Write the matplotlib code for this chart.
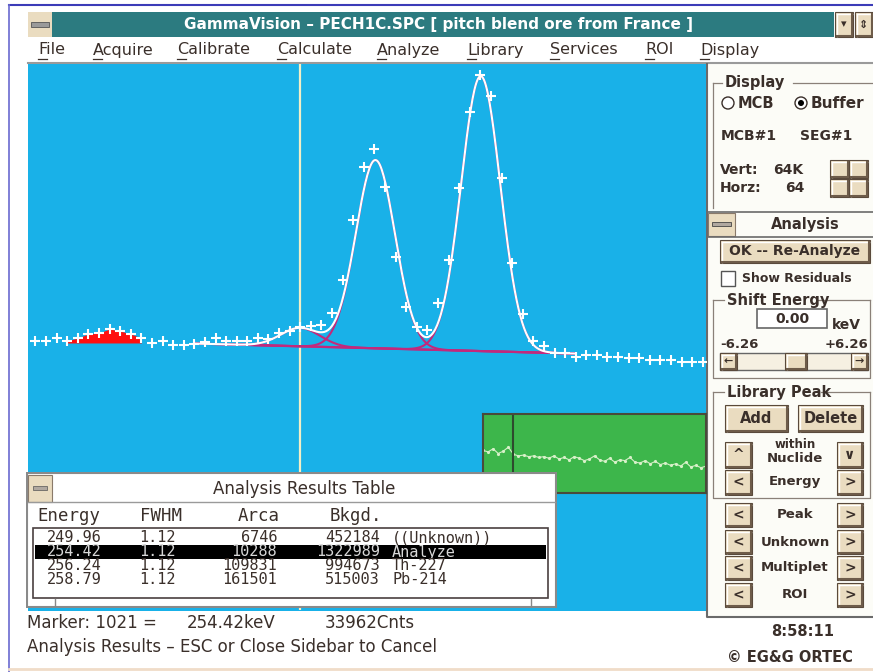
import numpy as np
import matplotlib
matplotlib.use("Agg")
import matplotlib.pyplot as plt
from matplotlib.patches import Rectangle, Circle

# ----------------------------------------------------------
# Spectrum data (channel, counts)
# ----------------------------------------------------------
channels = list(range(996, 1060))
counts = [
    32290, 32290, 32650, 32290, 32650, 33130, 33250, 33730, 33490, 33130,
    32650, 32050, 32290, 31810, 31810, 31930, 32170, 32650, 32290, 32290,
    32290, 32650, 32530, 33250, 33490, 33962, 34090, 34210, 35650, 39610,
    46810, 53170, 55330, 50770, 42370, 36370, 33970, 33610, 36850, 42010,
    50650, 59780, 64220, 61700, 51850, 41650, 35530, 32290, 31690, 30850,
    30850, 30370, 30600, 30600, 30370, 30370, 30250, 30250, 30010, 30010,
    30010, 29770, 29770, 29770,
]
roi_channels = [999, 1000, 1001, 1002, 1003, 1004, 1005, 1006]
roi_base = 32050

# analysis results table
peak_energy = [249.96, 254.42, 256.24, 258.79]
peak_fwhm = [1.12, 1.12, 1.12, 1.12]
peak_area = [6746, 10288, 109831, 161501]
peak_bkgd = [452184, 1322989, 994673, 515003]
peak_label = ["((Unknown))", "Analyze", "Th-227", "Pb-214"]
peak_height = [1450, 2210, 22600, 33000]   # fitted height above background

# calibration / marker
MARKER_CH = 1021
MARKER_E = 254.42
GAIN = 0.2565          # keV per channel
MARKER_CNTS = 33962

# multiplet fit region and linear background
fit_ch = [1011, 1047]
fit_bkg = [31980, 30780]

# overview spectrum shown in the green inset
overview = [54, 52, 56, 50, 53, 58, 49, 47, 48, 46, 47, 45, 46, 44, 47, 43,
            45, 42, 46, 44, 41, 43, 47, 42, 40, 44, 39, 42, 41, 45, 39, 38,
            41, 37, 40, 36, 38, 35, 37, 34, 39, 33, 35, 32, 34]

menu_items = ["File", "Acquire", "Calibrate", "Calculate", "Analyze",
              "Library", "Services", "ROI", "Display"]
menu_x = [38, 93, 177, 277, 377, 467, 550, 645, 700]

# ----------------------------------------------------------
# Colours
# ----------------------------------------------------------
BLUE = "#19b1e8"
TEAL = "#2c7b80"
BEIGE = "#eadcc0"
SHADOW = "#6e5c4a"
INK = "#3a2f2a"
PANEL = "#fcfcf7"
MAGENTA = "#c2297c"
GREEN = "#3db64b"

W, H = 873, 672
fig = plt.figure(figsize=(W / 100, H / 100), dpi=100)
fig.patch.set_facecolor("white")

ui = fig.add_axes([0, 0, 1, 1])
ui.set_xlim(0, W)
ui.set_ylim(H, 0)
ui.axis("off")


def px_axes(x0, y0, x1, y1, z):
    ax = fig.add_axes([x0 / W, 1 - y1 / H, (x1 - x0) / W, (y1 - y0) / H])
    ax.set_zorder(z)
    return ax


def rect(ax, x0, y0, x1, y1, fc, ec="none", lw=1.0, z=1):
    ax.add_patch(Rectangle((x0, y0), x1 - x0, y1 - y0, facecolor=fc,
                           edgecolor=ec, lw=lw, zorder=z))


def button(ax, x0, y0, x1, y1, label="", fs=9.5, z=3):
    rect(ax, x0, y0, x1, y1, BEIGE, ec="#5a4a3c", lw=0.8, z=z)
    ax.plot([x0 + 1.5, x1 - 1.5], [y0 + 1.5, y0 + 1.5], color="white", lw=1, zorder=z)
    ax.plot([x0 + 1.5, x0 + 1.5], [y0 + 1.5, y1 - 1.5], color="white", lw=1, zorder=z)
    ax.plot([x0 + 1.5, x1 - 1.5], [y1 - 1.5, y1 - 1.5], color=SHADOW, lw=1.5, zorder=z)
    ax.plot([x1 - 1.5, x1 - 1.5], [y0 + 1.5, y1 - 1.5], color=SHADOW, lw=1.5, zorder=z)
    if label:
        ax.text((x0 + x1) / 2, (y0 + y1) / 2, label, ha="center", va="center",
                fontsize=fs, fontweight="bold", color=INK, zorder=z + 1)


def group(ax, x0, y0, x1, y1, label, lx0, lx1, closed=True):
    c = "#8a8078"
    ax.plot([x0, lx0 - 3], [y0, y0], color=c, lw=0.9)
    ax.plot([lx1 + 3, x1], [y0, y0], color=c, lw=0.9)
    if closed:
        ax.plot([x0, x0, x1, x1], [y0, y1, y1, y0], color=c, lw=0.9)
    else:
        ax.plot([x0, x0], [y0, y1], color=c, lw=0.9)
    ax.text(lx0, y0, label, ha="left", va="center", fontsize=10.5,
            fontweight="bold", color=INK)


# ----------------------------------------------------------
# Window frame, title bar, menu bar
# ----------------------------------------------------------
ui.plot([9, W], [5, 5], color="#3c3cb8", lw=1.5)
ui.plot([9, 9], [5, H], color="#6a6ad0", lw=1.2)
ui.plot([9, W], [669, 669], color="#f0dcc8", lw=2)

rect(ui, 52, 12, 834, 37, TEAL)
rect(ui, 28, 12, 52, 37, BEIGE)
rect(ui, 31, 22, 49, 27, "#9a9a9a", ec="#555", lw=0.6)
ui.text(439, 25, "GammaVision \u2013 PECH1C.SPC [ pitch blend ore from France ]",
        ha="center", va="center", color="white", fontsize=11, fontweight="bold")
button(ui, 835, 12, 853, 37, "\u25be", fs=8)
button(ui, 855, 12, 873, 37, "\u21d5", fs=8)

for name, x in zip(menu_items, menu_x):
    ui.text(x, 50, name, ha="left", va="center", fontsize=11.5, color=INK)
    ui.plot([x, x + 9], [59, 59], color=INK, lw=0.9)
ui.plot([28, W], [63, 63], color="#9a9a9a", lw=1.5)

# ----------------------------------------------------------
# Spectrum window
# ----------------------------------------------------------
rect(ui, 28, 64, 706, 611, BLUE)
ax = px_axes(28, 64, 706, 610, 2)
ax.set_facecolor(BLUE)
ax.set_xlim(995.3, 1059.3)
ax.set_ylim(0, 65536)
ax.set_xticks([])
ax.set_yticks([])
for s in ax.spines.values():
    s.set_visible(False)

ch = np.array(channels)
ct = np.array(counts)

# ROI of the unknown peak, filled in red
roi_mask = np.isin(ch, roi_channels)
ax.fill_between(ch[roi_mask], roi_base, ct[roi_mask], color="#ff1010",
                zorder=2, lw=0)

# multiplet fit: linear background + gaussian components
xf = np.linspace(fit_ch[0], fit_ch[1], 400)
bkg = np.interp(xf, fit_ch, fit_bkg)
sigma = np.array(peak_fwhm) / GAIN / 2.3548
centroid = MARKER_CH + (np.array(peak_energy) - MARKER_E) / GAIN
total = bkg.copy()
for i in range(1, 4):
    g = peak_height[i] * np.exp(-0.5 * ((xf - centroid[i]) / sigma[i]) ** 2)
    ax.plot(xf, bkg + g, color=MAGENTA, lw=1.5, zorder=3)
    total += g
ax.plot(xf[xf > 1015.5], bkg[xf > 1015.5], color=MAGENTA, lw=1.6, zorder=3)
ax.plot(xf, total, color="white", lw=1.5, zorder=4)

ax.plot(ch, ct, ls="none", marker="+", ms=6.5, mew=1.5, color="white", zorder=5)
ax.axvline(MARKER_CH, color="#f3efc6", lw=1.6, zorder=1)

# overview inset (green)
inset = px_axes(483, 414, 706, 493, 4)
inset.set_facecolor(GREEN)
inset.set_xlim(0, len(overview) - 1)
inset.set_ylim(0, 100)
inset.set_xticks([])
inset.set_yticks([])
for s in inset.spines.values():
    s.set_color("#4a4a3a")
    s.set_linewidth(1.5)
inset.plot(range(len(overview)), overview, color="#d7f0c8", lw=0.8,
           marker=".", ms=2.5)
inset.axvline(6.0, color="#2e4a2e", lw=1.5)

# ----------------------------------------------------------
# Analysis results table window
# ----------------------------------------------------------
tb = px_axes(26, 472, 557, 608, 6)
tb.set_xlim(26, 557)
tb.set_ylim(608, 472)
tb.axis("off")
rect(tb, 27, 473, 556, 607, "white", ec="#8a8a8a", lw=1.5)
rect(tb, 28, 475, 52, 502, BEIGE, ec="#8a7a6a", lw=0.8)
rect(tb, 33, 486, 47, 490, "#b0a8a0", ec="#555", lw=0.5)
tb.text(304, 489, "Analysis Results Table", ha="center", va="center",
        fontsize=12, color=INK)
tb.plot([28, 555], [502, 502], color="#9a9a9a", lw=1)

MONO = "DejaVu Sans Mono"
for lab, x in zip(["Energy", "FWHM", "Arca", "Bkgd."], [37, 140, 238, 330]):
    tb.text(x, 516, lab, ha="left", va="center", fontsize=12.5,
            family=MONO, color=INK)
rect(tb, 33, 528, 548, 598, "white", ec="#4a4040", lw=1.2)
row_y = [538, 552, 566, 580]
for i in range(4):
    y = row_y[i]
    col = INK
    if i == 1:
        rect(tb, 35, y - 7, 546, y + 7, "black", z=2)
        col = "#d8d8d8"
    kw = dict(va="center", fontsize=11, family=MONO, color=col, zorder=3)
    tb.text(102, y, f"{peak_energy[i]:.2f}", ha="right", **kw)
    tb.text(176, y, f"{peak_fwhm[i]:.2f}", ha="right", **kw)
    tb.text(277, y, f"{peak_area[i]}", ha="right", **kw)
    tb.text(380, y, f"{peak_bkgd[i]}", ha="right", **kw)
    tb.text(392, y, peak_label[i], ha="left", **kw)
tb.plot([55, 55], [599, 606], color="#888", lw=1)
tb.plot([531, 531], [599, 606], color="#888", lw=1)

# ----------------------------------------------------------
# Status line
# ----------------------------------------------------------
ui.text(27, 623, f"Marker: {MARKER_CH} =", ha="left", va="center",
        fontsize=12, color=INK)
ui.text(187, 623, f"{MARKER_E:.2f}keV", ha="left", va="center",
        fontsize=12, color=INK)
ui.text(325, 623, f"{MARKER_CNTS}Cnts", ha="left", va="center",
        fontsize=12, color=INK)
ui.text(27, 647, "Analysis Results \u2013 ESC or Close Sidebar to Cancel",
        ha="left", va="center", fontsize=12, color=INK)

# ----------------------------------------------------------
# Right side bar
# ----------------------------------------------------------
rect(ui, 707, 64, 873, 617, PANEL)
ui.plot([707, 707, W], [64, 617, 617], color="#6a6a6a", lw=1.5)

group(ui, 713, 83, 872, 208, "Display", 725, 790, closed=False)
ui.add_patch(Circle((728, 103), 6, facecolor="white", edgecolor=INK, lw=1))
ui.text(738, 103, "MCB", ha="left", va="center", fontsize=10.5, fontweight="bold", color=INK)
ui.add_patch(Circle((801, 103), 6, facecolor="white", edgecolor=INK, lw=1))
ui.add_patch(Circle((801, 103), 3, facecolor="black"))
ui.text(811, 103, "Buffer", ha="left", va="center", fontsize=11, fontweight="bold", color=INK)
ui.text(721, 136, "MCB#1", ha="left", va="center", fontsize=10, fontweight="bold", color=INK)
ui.text(800, 136, "SEG#1", ha="left", va="center", fontsize=10, fontweight="bold", color=INK)
ui.text(720, 170, "Vert:", ha="left", va="center", fontsize=10, fontweight="bold", color=INK)
ui.text(773, 170, "64K", ha="left", va="center", fontsize=10, fontweight="bold", color=INK)
ui.text(720, 188, "Horz:", ha="left", va="center", fontsize=10, fontweight="bold", color=INK)
ui.text(785, 188, "64", ha="left", va="center", fontsize=10, fontweight="bold", color=INK)
for bx, by in [(830, 160), (849, 160), (830, 179), (849, 179)]:
    button(ui, bx, by, bx + 19, by + 18)
ui.plot([839.5], [165], marker="v", ms=4, color="black")
ui.plot([839.5], [172], marker="^", ms=4, color="black")
ui.plot([858.5], [165], marker="^", ms=4, color="black")
ui.plot([858.5], [172], marker="v", ms=4, color="black")
ui.plot([835.5], [188], marker=">", ms=4, color="black")
ui.plot([843.5], [188], marker="<", ms=4, color="black")
ui.plot([854.5], [188], marker="<", ms=4, color="black")
ui.plot([862.5], [188], marker=">", ms=4, color="black")

# analysis header bar
ui.plot([707, W], [212, 212], color="#6a6a6a", lw=1.2)
ui.plot([707, W], [237, 237], color="#6a6a6a", lw=1.2)
rect(ui, 708, 213, 735, 236, BEIGE, ec="#8a7a6a", lw=0.8)
rect(ui, 712, 222, 731, 226, "#b0a8a0", ec="#444", lw=0.6)
ui.text(805, 224, "Analysis", ha="center", va="center", fontsize=10.5,
        fontweight="bold", color=INK)

button(ui, 720, 240, 870, 263, "OK -- Re-Analyze", fs=10)
rect(ui, 721, 271, 735, 286, "white", ec="#555", lw=1)
ui.text(742, 279, "Show Residuals", ha="left", va="center", fontsize=9,
        fontweight="bold", color=INK)

group(ui, 713, 300, 870, 378, "Shift Energy", 727, 815)
rect(ui, 757, 309, 827, 328, "white", ec="#666", lw=1.2)
ui.text(792, 319, "0.00", ha="center", va="center", fontsize=10, fontweight="bold", color=INK)
ui.text(832, 325, "keV", ha="left", va="center", fontsize=10, fontweight="bold", color=INK)
ui.text(720, 345, "-6.26", ha="left", va="center", fontsize=9.5, fontweight="bold", color=INK)
ui.text(868, 345, "+6.26", ha="right", va="center", fontsize=9.5, fontweight="bold", color=INK)
rect(ui, 720, 353, 868, 370, "#f6f0e2", ec="#666", lw=1)
button(ui, 720, 353, 737, 370, "\u2190", fs=8)
button(ui, 851, 353, 868, 370, "\u2192", fs=8)
button(ui, 785, 353, 807, 370)

group(ui, 713, 392, 870, 498, "Library Peak", 727, 818)
button(ui, 725, 405, 788, 432, "Add", fs=10.5)
button(ui, 798, 405, 863, 432, "Delete", fs=10.5)
button(ui, 725, 442, 752, 468, "^", fs=10)
button(ui, 837, 442, 863, 468, "\u2228", fs=10)
button(ui, 725, 470, 752, 495, "<", fs=10)
button(ui, 837, 470, 863, 495, ">", fs=10)
ui.text(795, 444, "within", ha="center", va="center", fontsize=8.5, fontweight="bold", color=INK)
ui.text(795, 458, "Nuclide", ha="center", va="center", fontsize=9.5, fontweight="bold", color=INK)
ui.text(795, 482, "Energy", ha="center", va="center", fontsize=9.5, fontweight="bold", color=INK)

for lab, y0 in zip(["Peak", "Unknown", "Multiplet", "ROI"], [503, 530, 556, 583]):
    button(ui, 725, y0, 752, y0 + 24, "<", fs=10)
    button(ui, 837, y0, 863, y0 + 24, ">", fs=10)
    ui.text(795, y0 + 12, lab, ha="center", va="center", fontsize=9.5,
            fontweight="bold", color=INK)

ui.text(803, 632, "8:58:11", ha="center", va="center", fontsize=10.5,
        fontweight="bold", color=INK)
ui.text(790, 657, "\u00a9 EG&G ORTEC", ha="center", va="center", fontsize=10.5,
        fontweight="bold", color=INK)

fig.savefig("out.png", dpi=100)
